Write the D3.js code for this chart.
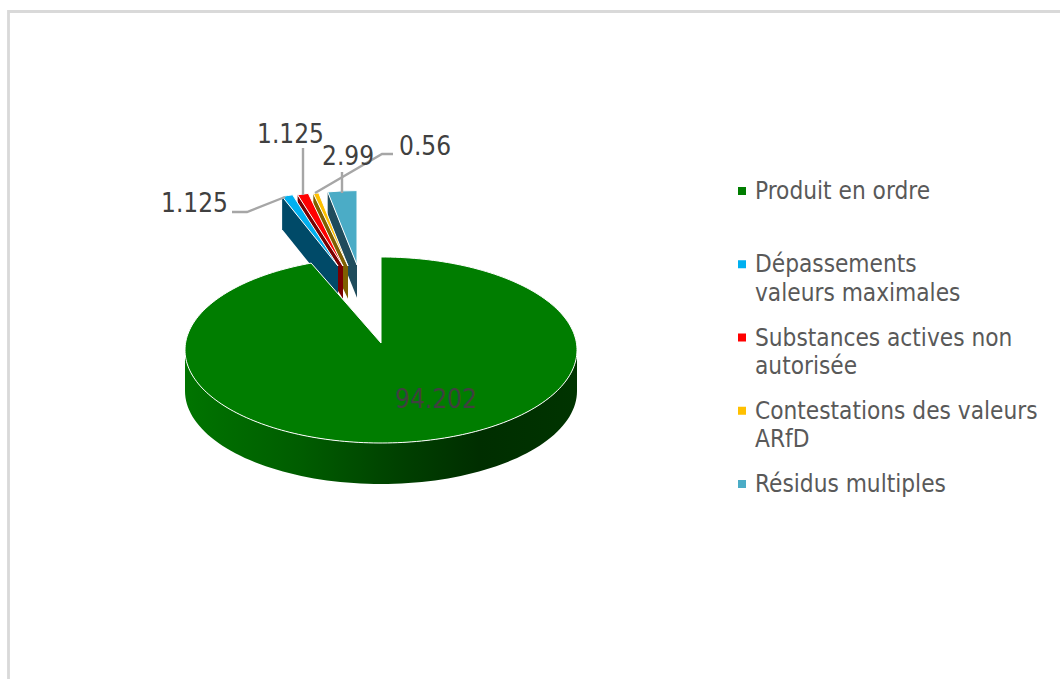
<!DOCTYPE html>
<html lang="fr">
<head>
    <meta charset="UTF-8">
    <title>Produit en ordre</title>
    <style>
        html, body { margin: 0; padding: 0; background: #fff; overflow: hidden; }
        svg { display: block; }
        text { font-family: "DejaVu Sans Condensed", "DejaVu Sans", sans-serif; font-stretch: condensed; }
        .face { stroke: #fff; stroke-width: 1; vector-effect: non-scaling-stroke; }
        .leader { fill: none; stroke: #a6a6a6; stroke-width: 2.4; }
    </style>
</head>
<body>
<svg id="chart" width="1060" height="679"></svg>
<script src="https://d3js.org/d3.v7.min.js"></script>
<script>
    // data
    const categories = ['Produit en ordre', 'Dépassements valeurs maximales', 'Substances actives non autorisée', 'Contestations des valeurs ARfD', 'Résidus multiples'];
    const values = [94.202, 1.125, 1.125, 0.56, 2.99];
    const valueLabels = ['94.202', '1.125', '1.125', '0.56', '2.99'];
    const legendLines = [['Produit en ordre'], ['Dépassements', 'valeurs maximales'], ['Substances actives non', 'autorisée'], ['Contestations des valeurs', 'ARfD'], ['Résidus multiples']];

    // styles and layout
    const colors = ['#007d00', '#00b0f0', '#ff0000', '#ffc000', '#4bacc6'];
    const wallColors = [null, '#004a68', '#7a0000', '#7f6000', '#1f4c5c'];
    const explode = [[0, 0], [-43, -84], [-38, -84], [-33, -84], [-24, -85]];
    const labelPos = [[395, 408], [161, 212], [257, 143], [399, 155], [322, 165]];
    const leaders = [null,
        [[232, 212], [247, 212], [285, 197]],
        [[303, 148], [303, 195]],
        [[315, 193], [382, 154], [393, 154]],
        [[342, 172], [342, 193]]];

    const cx = 381, cy = 350, rx = 196, ry = 93, depth = 41;
    const shrink = 0.8; // pulled out slices are drawn smaller
    const apexLift = 7; // the notch of the big slice stops above the ellipse centre

    const svg = d3.select('#chart');

    const grad = svg.append('defs').append('linearGradient')
        .attr('id', 'sideGrad')
        .attr('gradientUnits', 'userSpaceOnUse')
        .attr('x1', cx - rx).attr('x2', cx + rx).attr('y1', 0).attr('y2', 0);
    grad.selectAll('stop')
        .data([[0, '#007400'], [0.3, '#005c00'], [0.55, '#004000'], [0.75, '#002e00'], [1, '#003400']])
        .enter().append('stop')
        .attr('offset', d => d[0])
        .attr('stop-color', d => d[1]);

    // frame
    svg.append('path')
        .attr('d', 'M8.5,679V11.5H1060')
        .attr('fill', 'none')
        .attr('stroke', '#d9d9d9')
        .attr('stroke-width', 2.8);

    const slices = d3.pie().sort(null).value(d => d)(values);
    const arc = d3.arc().innerRadius(0).outerRadius(rx);
    const arcPoint = (a, k) => [rx * k * Math.sin(a), -ry * k * Math.cos(a)];

    // back slices first, blue ends up on top of the neighbours' walls
    d3.range(slices.length - 1, 0, -1).forEach(i => {
        const s = slices[i];
        const x0 = cx + explode[i][0], y0 = cy + explode[i][1];
        const [ex, ey] = arcPoint(s.startAngle, shrink);
        const h = depth * shrink;
        const g = svg.append('g').attr('transform', `translate(${x0},${y0})`);
        g.append('path')
            .attr('d', d3.line()([[0, 0], [ex, ey], [ex, ey + h], [0, h]]) + 'Z')
            .attr('fill', wallColors[i]);
        g.append('path')
            .attr('class', 'face')
            .attr('d', arc(s))
            .attr('transform', `scale(${shrink},${shrink * ry / rx})`)
            .attr('fill', colors[i]);
    });

    // big slice: rim then top
    const rimAngles = d3.range(Math.PI / 2, 3 * Math.PI / 2 + 0.001, Math.PI / 90);
    const rimTop = rimAngles.map(a => arcPoint(a, 1));
    const rimPts = rimTop.concat(rimTop.map(p => [p[0], p[1] + depth]).reverse());
    const main = svg.append('g').attr('transform', `translate(${cx},${cy})`);
    main.append('path')
        .attr('d', d3.line()(rimPts.map(p => [p[0] + cx, p[1] + cy])) + 'Z')
        .attr('transform', `translate(${-cx},${-cy})`)
        .attr('fill', 'url(#sideGrad)');
    const steps = 240;
    const topPts = d3.range(steps + 1).map(j => {
        const a = slices[0].startAngle + (slices[0].endAngle - slices[0].startAngle) * j / steps;
        return arcPoint(a, 1);
    });
    topPts.push([0, -apexLift]);
    main.append('path')
        .attr('class', 'face')
        .attr('d', d3.line()(topPts) + 'Z')
        .attr('fill', colors[0]);

    // leader lines
    svg.selectAll('.leader')
        .data(leaders.filter(d => d))
        .enter().append('path')
        .attr('class', 'leader')
        .attr('d', d => d3.line()(d));

    // value labels
    svg.selectAll('.value')
        .data(valueLabels)
        .enter().append('text')
        .attr('class', 'value')
        .attr('x', (d, i) => labelPos[i][0])
        .attr('y', (d, i) => labelPos[i][1])
        .attr('font-size', 26)
        .attr('fill', '#404040')
        .text(d => d);

    // legend
    const legend = svg.selectAll('.legend')
        .data(categories)
        .enter().append('g')
        .attr('class', 'legend')
        .attr('transform', (d, i) => `translate(738,${191 + i * 73.25})`);
    legend.append('rect')
        .attr('y', -4).attr('width', 8).attr('height', 8)
        .attr('fill', (d, i) => colors[i]);
    legend.append('text')
        .attr('font-size', 24.2)
        .attr('fill', '#595959')
        .selectAll('tspan')
        .data((d, i) => legendLines[i])
        .enter().append('tspan')
        .attr('x', 17)
        .attr('y', (d, i) => 8 + i * 28.5)
        .text(d => d);
</script>
</body>
</html>
